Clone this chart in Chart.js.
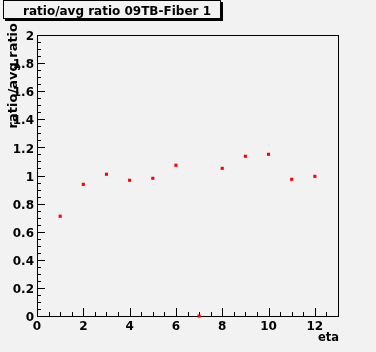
<!DOCTYPE html>
<html>
<head>
<meta charset="utf-8">
<script src="https://cdn.jsdelivr.net/npm/chart.js@4/dist/chart.umd.min.js"></script>
<style>
  html, body { margin: 0; padding: 0; background: #f2f2f2; }
  canvas { display: block; }
</style>
</head>
<body>
<canvas id="ratioChart" width="376" height="352"></canvas>
<script>
// eta bins and ratio/avg ratio
const etaBins = [1, 2, 3, 4, 5, 6, 7, 8, 9, 10, 11, 12];
const ratioValues = [0.710, 0.937, 1.009, 0.966, 0.980, 1.073, 0.0, 1.051, 1.137, 1.151, 0.973, 0.994];

const titleText = "ratio/avg ratio 09TB-Fiber 1";
const xTitle = "eta";
const yTitle = "ratio/avg ratio";

const FONT = "'DejaVu Sans', sans-serif";

// ROOT style frame: inward ticks, title box with shadow, axis titles
const rootFrame = {
  id: "rootFrame",
  beforeDatasetsDraw(chart) {
    const ctx = chart.ctx;
    const a = chart.chartArea;
    const xs = chart.scales.x, ys = chart.scales.y;
    ctx.save();
    ctx.strokeStyle = "#000";
    ctx.lineWidth = 1;
    ctx.beginPath();
    // y ticks
    for (let i = 0; i <= 40; i++) {
      const v = i * 0.05;
      const py = Math.round(ys.getPixelForValue(v)) + 0.5;
      const len = i % 4 === 0 ? 8 : 4;
      ctx.moveTo(a.left, py);
      ctx.lineTo(a.left + len, py);
    }
    // x ticks
    for (let i = 0; i <= 26; i++) {
      const v = i * 0.5;
      const px = Math.round(xs.getPixelForValue(v)) + 0.5;
      const len = i % 4 === 0 ? 8 : 4;
      ctx.moveTo(px, a.bottom);
      ctx.lineTo(px, a.bottom - len);
    }
    ctx.stroke();
    // frame
    ctx.strokeRect(a.left + 0.5, a.top + 0.5, a.right - a.left, a.bottom - a.top);
    ctx.fillStyle = "#000";
    ctx.fillRect(a.right, a.top, 1, a.bottom - a.top + 1);
    ctx.restore();
  },
  afterDraw(chart) {
    const ctx = chart.ctx;
    ctx.save();
    // title box
    ctx.fillStyle = "#000";
    ctx.fillRect(221, 2, 2, 19);
    ctx.fillRect(5, 19, 218, 2);
    ctx.strokeStyle = "#000";
    ctx.lineWidth = 1;
    ctx.strokeRect(3.5, 0.5, 217, 18);
    ctx.font = "bold 12px " + FONT;
    ctx.textAlign = "center";
    ctx.textBaseline = "alphabetic";
    ctx.fillText(titleText, 117, 15);
    // x title
    ctx.font = "bold 11.5px " + FONT;
    ctx.textAlign = "right";
    ctx.fillText(xTitle, 339, 341);
    // y title
    ctx.font = "bold 13px " + FONT;
    ctx.translate(17, 23);
    ctx.rotate(-Math.PI / 2);
    ctx.textAlign = "right";
    ctx.fillText(yTitle, 0, 0);
    ctx.restore();
  }
};

new Chart(document.getElementById("ratioChart").getContext("2d"), {
  type: "scatter",
  data: {
    datasets: [{
      label: yTitle,
      data: etaBins.map((x, i) => ({ x: x, y: ratioValues[i] })),
      backgroundColor: "#ff0000",
      borderWidth: 0,
      pointStyle: "rect",
      pointRadius: 2.2,
      clip: false
    }]
  },
  options: {
    responsive: false,
    animation: false,
    layout: { padding: { left: 0, top: 35, right: 38, bottom: 0 } },
    plugins: { legend: { display: false }, tooltip: { enabled: false } },
    scales: {
      x: {
        type: "linear",
        min: 0, max: 13,
        grid: { display: false, drawTicks: false },
        border: { display: false },
        ticks: {
          stepSize: 2,
          includeBounds: false,
          padding: 4,
          color: "#000",
          font: { family: FONT, size: 12, weight: "bold" }
        },
        afterFit(scale) { scale.height = 36; }
      },
      y: {
        type: "linear",
        min: 0, max: 2,
        grid: { display: false, drawTicks: false },
        border: { display: false },
        ticks: {
          stepSize: 0.2,
          padding: 3,
          labelOffset: 2,
          color: "#000",
          font: { family: FONT, size: 12, weight: "bold" },
          callback: (v) => String(Math.round(v * 10) / 10)
        },
        afterFit(scale) { scale.width = 37; }
      }
    }
  },
  plugins: [rootFrame]
});
</script>
</body>
</html>
